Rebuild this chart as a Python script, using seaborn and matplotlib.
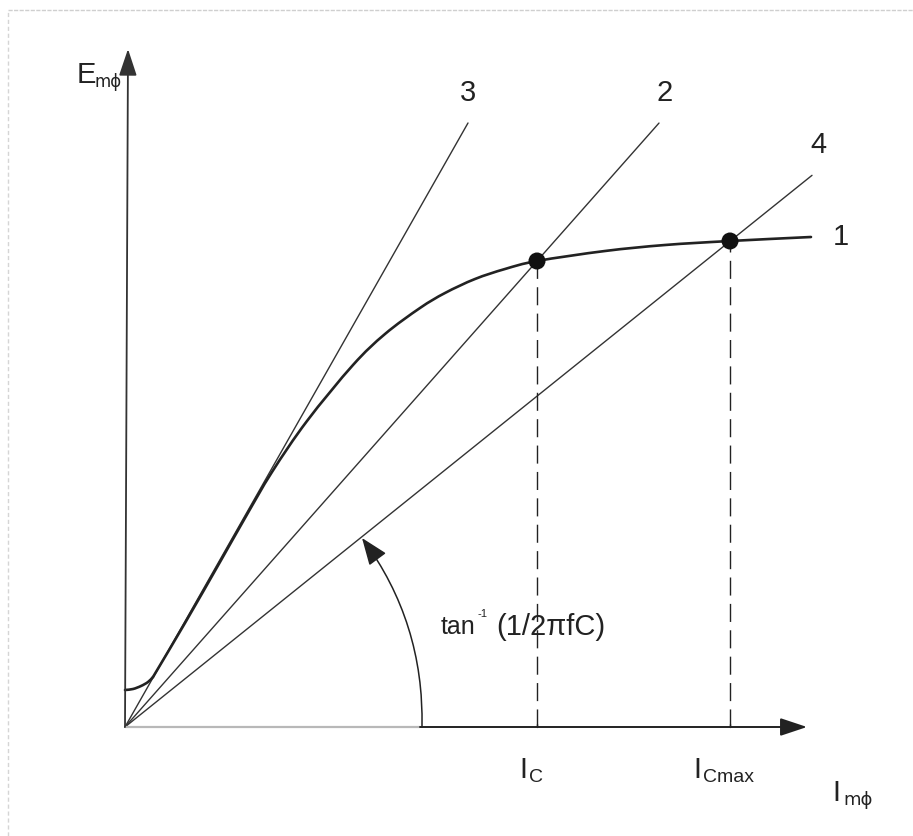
import numpy as np
import matplotlib
matplotlib.use("Agg")
import matplotlib.pyplot as plt
from matplotlib.lines import Line2D
from matplotlib.path import Path
from matplotlib.patches import PathPatch
import seaborn as sns

sns.set_theme(style="white")
plt.rcParams["font.family"] = ["Liberation Sans", "DejaVu Sans"]

# Magnetisation curve (1): air-gap voltage vs magnetising current
# toe near the origin (residual magnetism) and the main saturating branch
toe_i = [0, 8, 16, 23, 28]
toe_e = [37, 38, 41, 45, 50]
curve_i = [28, 60, 95, 120, 147, 182, 228, 260, 295, 320, 350, 380, 412, 480, 540, 605, 686]
curve_e = [50, 104, 165, 209, 255, 306, 362, 393, 419, 434, 448, 458, 466, 476, 482, 486, 490]

# Capacitor load lines through the origin
line_names = ["3", "2", "4"]
line_slopes = [1.761, 1.131, 0.803]
line_end_i = [343, 534, 687]

# Operating points: I_C on line 2, I_Cmax on line 4
op_names = ["I_C", "I_Cmax"]
op_i = [412, 605]
op_e = [466, 486]

W, H = 913, 836
fig = plt.figure(figsize=(W / 100, H / 100), dpi=100)
ax = fig.add_axes([0, 0, 1, 1])
ax.set_xlim(-125, W - 125)
ax.set_ylim(-(H - 727), 727)
ax.axis("off")

ink = "#222222"


def smooth_path(xs, ys):
    """Cubic Bezier path passing through every given point (Catmull-Rom tangents)."""
    p = np.column_stack([xs, ys]).astype(float)
    ext = np.vstack([2 * p[0] - p[1], p, 2 * p[-1] - p[-2]])
    verts = [p[0]]
    codes = [Path.MOVETO]
    for k in range(1, len(ext) - 2):
        c1 = ext[k] + (ext[k + 1] - ext[k - 1]) / 6.0
        c2 = ext[k + 1] - (ext[k + 2] - ext[k]) / 6.0
        verts += [c1, c2, ext[k + 1]]
        codes += [Path.CURVE4] * 3
    return Path(verts, codes)


# load lines
for name, k, xe in zip(line_names, line_slopes, line_end_i):
    sns.lineplot(x=[0, xe], y=[0, k * xe], ax=ax, color="#333333", lw=1.0,
                 sort=False, estimator=None)

# magnetisation curve
for xs, ys in ((toe_i, toe_e), (curve_i, curve_e)):
    ax.add_patch(PathPatch(smooth_path(xs, ys), facecolor="none", edgecolor=ink,
                           lw=1.9, capstyle="round", zorder=3))

# projections of the operating points
for xi, yi in zip(op_i, op_e):
    ax.plot([xi, xi], [0, yi], color=ink, lw=1.0, dashes=(13, 6))
    ax.plot([xi, xi], [0, 3], color=ink, lw=1.0)
sns.scatterplot(x=op_i, y=op_e, ax=ax, color="#111111", s=150, edgecolor="none", zorder=5)

# axes with arrowheads
ax.plot([0, 295], [0, 0], color="#b8b8b8", lw=1.6, solid_capstyle="butt")
ax.annotate("", xy=(682, 0), xytext=(295, 0),
            arrowprops=dict(arrowstyle="-|>,head_length=1.5,head_width=0.5",
                            color=ink, lw=1.4, mutation_scale=11, shrinkA=0, shrinkB=0))
ax.annotate("", xy=(3, 678), xytext=(0, 0),
            arrowprops=dict(arrowstyle="-|>,head_length=1.5,head_width=0.5",
                            color="#333333", lw=1.3, mutation_scale=11, shrinkA=0, shrinkB=0))

# angle arc for tan^-1(1/2*pi*f*C)
ax.annotate("", xy=(237, 189), xytext=(297, 0),
            arrowprops=dict(arrowstyle="-|>,head_length=1.3,head_width=0.5",
                            connectionstyle="arc3,rad=0.17",
                            color=ink, lw=1.1, mutation_scale=13, shrinkA=0, shrinkB=0))

fs = 21
# curve numbers
for name, xe, k in zip(line_names, line_end_i, line_slopes):
    dx = 6 if name in ("2", "4") else 0
    ax.text(xe + dx, k * xe + 30, name, ha="center", va="center", fontsize=fs, color=ink)
ax.text(708, 490, "1", ha="left", va="center", fontsize=fs, color=ink)

# axis titles
ax.text(-39, 652, "E", ha="center", va="center", fontsize=fs, color=ink)
ax.text(-31, 645, "mϕ", ha="left", va="center", fontsize=12, color=ink,
        family=["DejaVu Sans"])
ax.text(711, -66, "I", ha="center", va="center", fontsize=fs, color=ink)
ax.text(718, -73, "mϕ", ha="left", va="center", fontsize=13, color=ink,
        family=["DejaVu Sans"])

# operating point labels
ax.text(op_i[0] - 14, -43, "I", ha="center", va="center", fontsize=fs, color=ink)
ax.text(op_i[0] - 8, -51, "C", ha="left", va="center", fontsize=14, color=ink)
ax.text(op_i[1] - 33, -43, "I", ha="center", va="center", fontsize=fs, color=ink)
ax.text(op_i[1] - 27, -51, "Cmax", ha="left", va="center", fontsize=14, color=ink)

# angle label
ax.text(316, 100, "tan", ha="left", va="center", fontsize=18, color=ink)
ax.text(352, 113, "-1", ha="left", va="center", fontsize=8, color=ink)
ax.text(371, 100, "(1/2\u03c0fC)", ha="left", va="center", fontsize=21, color=ink)

# faint page frame
fig.add_artist(Line2D([8 / W, 1], [1 - 10 / H, 1 - 10 / H], transform=fig.transFigure,
                      color="#cfcfcf", lw=1.0, ls=(0, (3, 1))))
fig.add_artist(Line2D([8 / W, 8 / W], [0, 1 - 10 / H], transform=fig.transFigure,
                      color="#d5d5d5", lw=1.0, ls=(0, (3, 2))))

fig.savefig("out.png", dpi=100, facecolor="white")
